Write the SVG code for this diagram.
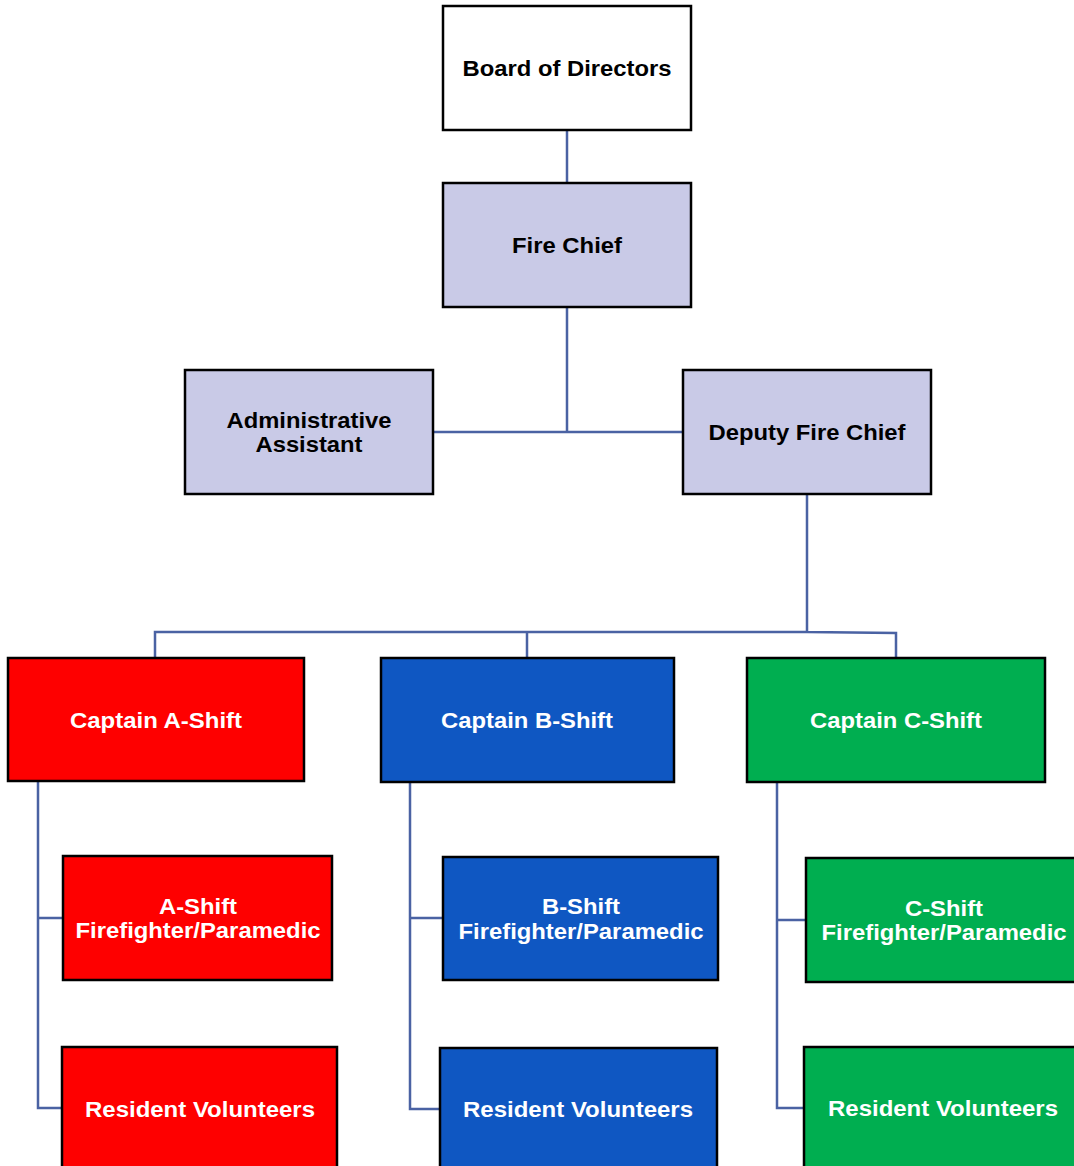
<svg xmlns="http://www.w3.org/2000/svg" width="1074" height="1166" viewBox="0 0 1074 1166">
<style>
.box{stroke:#000;stroke-width:2.5}
.w{fill:#fff}.lav{fill:#C9CAE7}.red{fill:#FE0000}.blue{fill:#0F57C2}.green{fill:#00AE50}
text{font-family:"Liberation Sans",Arial,sans-serif;font-weight:bold;font-size:22px;text-anchor:middle}
.dk{fill:#000}.lt{fill:#fff}
.con{fill:none;stroke:#4A62A3;stroke-width:2.5}
</style>
<rect width="1074" height="1166" fill="#fff"/>
<g id="connectors" class="con">
<path d="M567 130V183"/>
<path d="M567 307V432M433 432H683"/>
<path d="M807 494V632M155 658V632H807L896 633V658M527 632V658"/>
<path d="M38 781V1108H62M38 918H63"/>
<path d="M410 782V1109H440M410 918H443"/>
<path d="M777 782V1108H804M777 920H806"/>
</g>
<g id="board"><rect class="box w" x="443" y="6" width="248" height="124"/><text class="dk" x="567" y="76" textLength="209" lengthAdjust="spacingAndGlyphs">Board of Directors</text></g>
<g id="chief"><rect class="box lav" x="443" y="183" width="248" height="124"/><text class="dk" x="567" y="253" textLength="110" lengthAdjust="spacingAndGlyphs">Fire Chief</text></g>
<g id="admin"><rect class="box lav" x="185" y="370" width="248" height="124"/><text class="dk" x="309" y="428" textLength="165" lengthAdjust="spacingAndGlyphs">Administrative</text><text class="dk" x="309" y="452" textLength="107" lengthAdjust="spacingAndGlyphs">Assistant</text></g>
<g id="deputy"><rect class="box lav" x="683" y="370" width="248" height="124"/><text class="dk" x="807" y="440" textLength="197" lengthAdjust="spacingAndGlyphs">Deputy Fire Chief</text></g>
<g id="capA"><rect class="box red" x="8" y="658" width="296" height="123"/><text class="lt" x="156" y="728" textLength="172" lengthAdjust="spacingAndGlyphs">Captain A-Shift</text></g>
<g id="capB"><rect class="box blue" x="381" y="658" width="293" height="124"/><text class="lt" x="527" y="728" textLength="172" lengthAdjust="spacingAndGlyphs">Captain B-Shift</text></g>
<g id="capC"><rect class="box green" x="747" y="658" width="298" height="124"/><text class="lt" x="896" y="728" textLength="172" lengthAdjust="spacingAndGlyphs">Captain C-Shift</text></g>
<g id="ffA"><rect class="box red" x="63" y="856" width="269" height="124"/><text class="lt" x="198" y="914" textLength="78" lengthAdjust="spacingAndGlyphs">A-Shift</text><text class="lt" x="198" y="938" textLength="245" lengthAdjust="spacingAndGlyphs">Firefighter/Paramedic</text></g>
<g id="ffB"><rect class="box blue" x="443" y="857" width="275" height="123"/><text class="lt" x="581" y="914" textLength="78" lengthAdjust="spacingAndGlyphs">B-Shift</text><text class="lt" x="581" y="939" textLength="245" lengthAdjust="spacingAndGlyphs">Firefighter/Paramedic</text></g>
<g id="ffC"><rect class="box green" x="806" y="858" width="276" height="124"/><text class="lt" x="944" y="916" textLength="78" lengthAdjust="spacingAndGlyphs">C-Shift</text><text class="lt" x="944" y="940" textLength="245" lengthAdjust="spacingAndGlyphs">Firefighter/Paramedic</text></g>
<g id="rvA"><rect class="box red" x="62" y="1047" width="275" height="124"/><text class="lt" x="200" y="1117" textLength="230" lengthAdjust="spacingAndGlyphs">Resident Volunteers</text></g>
<g id="rvB"><rect class="box blue" x="440" y="1048" width="277" height="124"/><text class="lt" x="578" y="1117" textLength="230" lengthAdjust="spacingAndGlyphs">Resident Volunteers</text></g>
<g id="rvC"><rect class="box green" x="804" y="1047" width="278" height="124"/><text class="lt" x="943" y="1116" textLength="230" lengthAdjust="spacingAndGlyphs">Resident Volunteers</text></g>
</svg>
